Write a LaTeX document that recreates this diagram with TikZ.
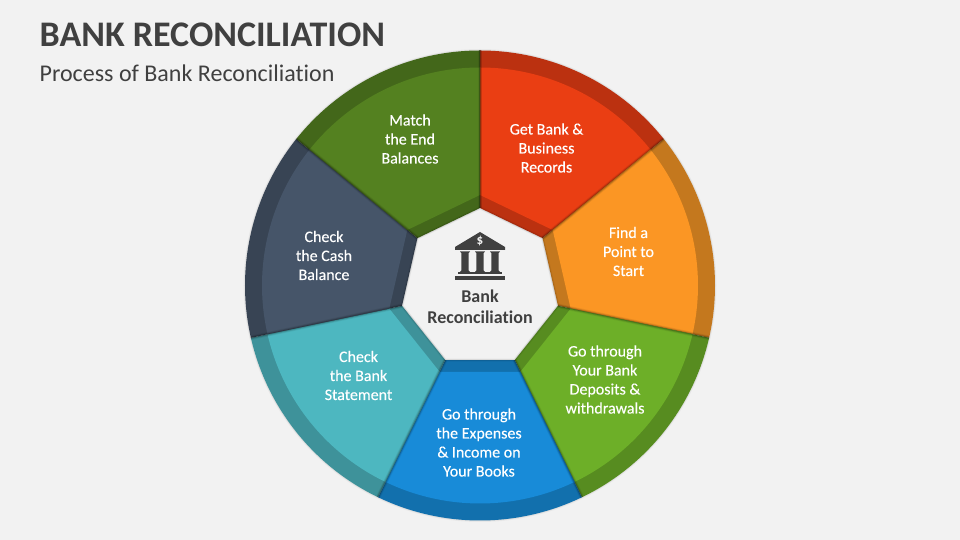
\documentclass[tikz,border=0pt]{standalone}
\usepackage{fontspec}
\setmainfont{Carlito}[Ligatures=NoCommon]
\definecolor{bgc}{HTML}{F2F2F2}
\definecolor{inkc}{HTML}{404040}
\definecolor{redL}{HTML}{EA3E13}\definecolor{redD}{HTML}{BB3110}
\definecolor{oraL}{HTML}{FB9624}\definecolor{oraD}{HTML}{C4781E}
\definecolor{grnL}{HTML}{6DAF28}\definecolor{grnD}{HTML}{578C20}
\definecolor{bluL}{HTML}{188BD8}\definecolor{bluD}{HTML}{1270AD}
\definecolor{teaL}{HTML}{4DB7C0}\definecolor{teaD}{HTML}{3E929A}
\definecolor{slaL}{HTML}{465569}\definecolor{slaD}{HTML}{384454}
\definecolor{oliL}{HTML}{548120}\definecolor{oliD}{HTML}{43671A}
\def\rin{80}\def\rout{235}\def\rlin{93}\def\rlout{218}
\newcommand{\segm}[3]{%
  \pgfmathsetmacro{\aa}{#1}\pgfmathsetmacro{\ab}{#1-51.4286}%
  \fill[#2] ([yshift=-2.5pt]\aa:\rin) -- (\aa:\rout) arc[start angle=\aa,end angle=\ab,radius=\rout] -- ([yshift=-2.5pt]\ab:\rin) -- cycle;
  \fill[#3] ([yshift=-2.5pt]\aa:\rlin) -- (\aa:\rlout) arc[start angle=\aa,end angle=\ab,radius=\rlout] -- ([yshift=-2.5pt]\ab:\rlin) -- cycle;
}
\newcommand{\rayshade}[1]{%
  \foreach \w/\o in {4.5/.06,3/.10,1.5/.18}{\draw[black,opacity=\o,line width=\w pt] ([yshift=-2.5pt]#1:\rin) -- (#1:\rout);}
}
\tikzset{
  seglabel/.style={text=white,font=\fontsize{16}{19}\selectfont\addfontfeature{FakeBold=0.2},align=center,inner sep=0pt},
  centerlabel/.style={text=inkc,font=\fontsize{18}{21}\selectfont\bfseries,align=center,inner sep=0pt},
  iconpart/.style={fill=inkc,draw=none}
}
\begin{document}
\begin{tikzpicture}[x=1pt,y=1pt]
\path[use as bounding box,fill=bgc] (-480,-254.5) rectangle (480,285.5);
% soft outer shadow
\foreach \w/\o in {3/.03,1.5/.05}{\draw[black,opacity=\o,line width=\w pt] (0,0) circle[radius=235];}
\segm{90}{redD}{redL}
\segm{38.5714}{oraD}{oraL}
\segm{-12.8571}{grnD}{grnL}
\segm{-64.2857}{bluD}{bluL}
\segm{-115.7143}{teaD}{teaL}
\segm{-167.1429}{slaD}{slaL}
\segm{141.4286}{oliD}{oliL}
\foreach \a in {90,38.5714,-12.8571,-64.2857,-115.7143,-167.1429,141.4286}{\rayshade{\a}}
% inner heptagon shadow
\begin{scope}[yshift=-2.5pt]
\foreach \w/\o in {3/.05,1.5/.08}{\draw[black,opacity=\o,line width=\w pt,line join=round] (90:\rin) -- (38.5714:\rin) -- (-12.8571:\rin) -- (-64.2857:\rin) -- (-115.7143:\rin) -- (-167.1429:\rin) -- (141.4286:\rin) -- cycle;}
\end{scope}
% titles
\node[anchor=base west,inner sep=0pt,text=inkc,font=\fontsize{36}{40}\selectfont\bfseries] (title) at (-440.5,239) {BANK RECONCILIATION};
\node[anchor=base west,inner sep=0pt,text=inkc,font=\fontsize{24}{28}\selectfont] (subtitle) at (-440.5,204.2) {Process of Bank Reconciliation};
% labels
\node[seglabel] (s1) at (66.5,137.5) {Get Bank \&\\Business\\Records};
\node[seglabel] (s2) at (148.5,34) {Find a\\Point to\\Start};
\node[seglabel] (s3) at (125,-94) {Go through\\Your Bank\\Deposits \&\\withdrawals};
\node[seglabel] (s4) at (-1,-157) {Go through\\the Expenses\\\& Income on\\Your Books};
\node[seglabel] (s5) at (-121.5,-90) {Check\\the Bank\\Statement};
\node[seglabel] (s6) at (-156,30) {Check\\the Cash\\Balance};
\node[seglabel] (s7) at (-70,146.5) {Match\\the End\\Balances};
\node[centerlabel] (c) at (0,-21.5) {Bank\\Reconciliation};
% bank icon
\fill[iconpart] (0,53.5) -- (25,38.5) -- (25,35.5) -- (-25,35.5) -- (-25,38.5) -- cycle;
\node[text=bgc,font=\fontsize{13}{13}\selectfont\bfseries,inner sep=0pt] (dollar) at (0,44.5) {\$};
\foreach \x in {-15,0,15}{\fill[iconpart] (\x-5,34) -- (\x+5,34) -- (\x+3.6,32.5) -- (\x+3.6,15) -- (\x+5,13.5) -- (\x-5,13.5) -- (\x-3.6,15) -- (\x-3.6,32.5) -- cycle;}
\fill[iconpart] (-22,13.5) rectangle (22,11);
\fill[iconpart] (-25,9.5) rectangle (25,5.5);
\end{tikzpicture}
\end{document}
